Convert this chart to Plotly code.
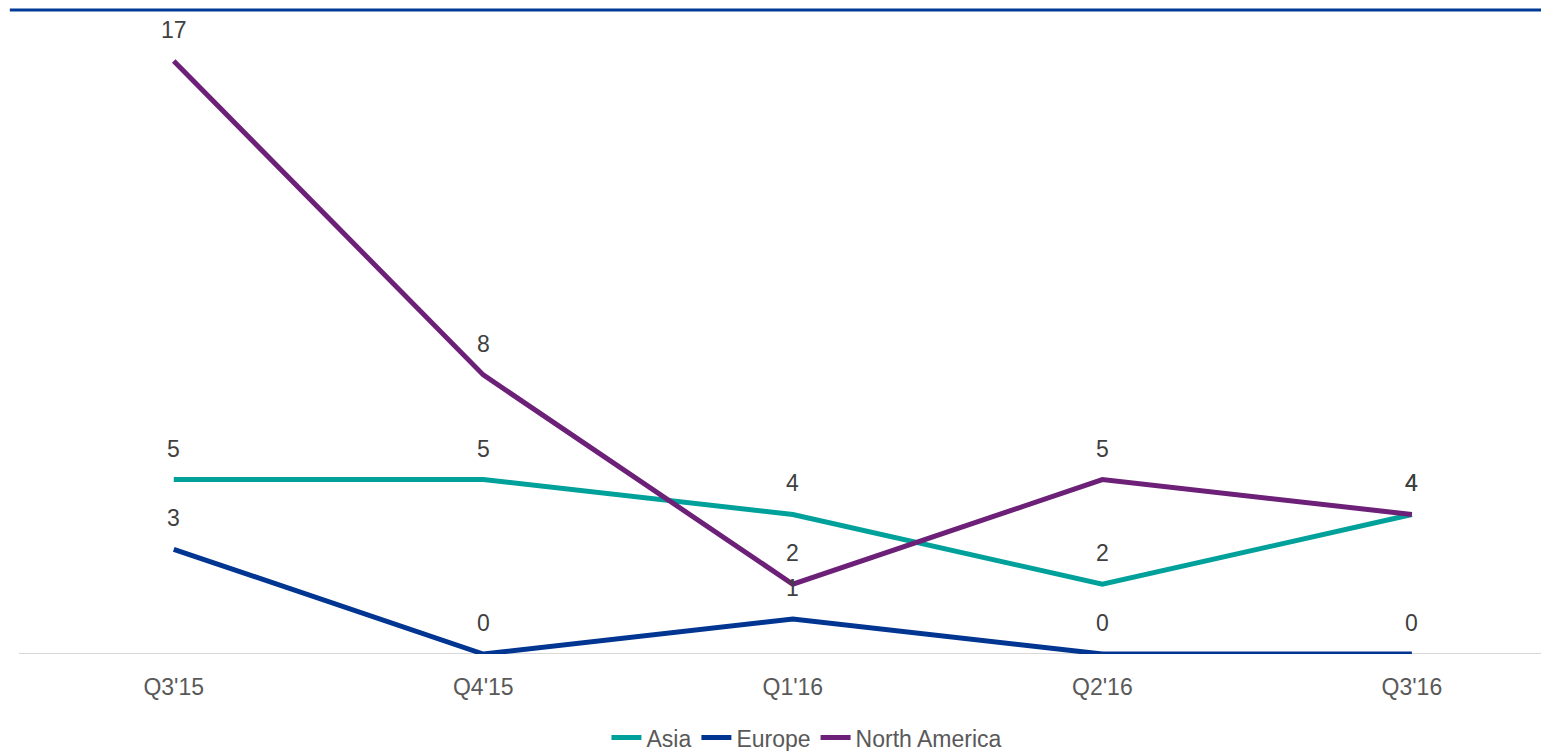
import plotly.graph_objects as go

categories = ["Q3'15", "Q4'15", "Q1'16", "Q2'16", "Q3'16"]
asia = [5, 5, 4, 2, 4]
europe = [3, 0, 1, 0, 0]
north_america = [17, 8, 2, 5, 4]

series = [
    ("Asia", asia, "#00A19B"),
    ("Europe", europe, "#003591"),
    ("North America", north_america, "#6C2077"),
]

W, H = 1541, 743
fig = go.Figure()
for name, vals, color in series:
    fig.add_trace(go.Scatter(
        x=categories, y=vals, name=name, mode="lines",
        line=dict(color=color, width=5),
        hoverinfo="skip",
    ))

annotations = []
for name, vals, color in series:
    for c, v in zip(categories, vals):
        annotations.append(dict(
            x=c, y=v, xref="x", yref="y", text=str(v), showarrow=False,
            yanchor="middle", xanchor="center", yshift=31,
            font=dict(family="Liberation Sans, Arial", size=23, color="#404040"),
        ))

fig.update_layout(
    width=W, height=H,
    margin=dict(l=11, r=0, t=2, b=97),
    paper_bgcolor="white", plot_bgcolor="white",
    font=dict(family="Liberation Sans, Arial", color="#595959"),
    annotations=annotations,
    showlegend=True,
    legend=dict(
        orientation="h", x=0.515, xanchor="center",
        yref="container", y=0.018, yanchor="middle",
        font=dict(size=23, color="#595959"),
        itemwidth=30, tracegroupgap=0,
    ),
    xaxis=dict(
        type="category", range=[-0.5, 4.443],
        showgrid=False, zeroline=False, showline=False,
        ticks="outside", ticklen=12, tickcolor="rgba(0,0,0,0)",
        tickfont=dict(size=23, color="#595959"),
    ),
    yaxis=dict(
        range=[0, 18.46], showgrid=False, zeroline=False,
        showline=False, showticklabels=False, ticks="",
    ),
    shapes=[
        dict(type="line", xref="paper", yref="y", x0=0, x1=1, y0=0, y1=0,
             line=dict(color="#D9D9D9", width=2), layer="below"),
        dict(type="line", xref="paper", yref="paper", x0=-0.006, x1=1, y0=1, y1=1,
             line=dict(color="#003A96", width=3)),
    ],
)

fig.write_html("out.html")
